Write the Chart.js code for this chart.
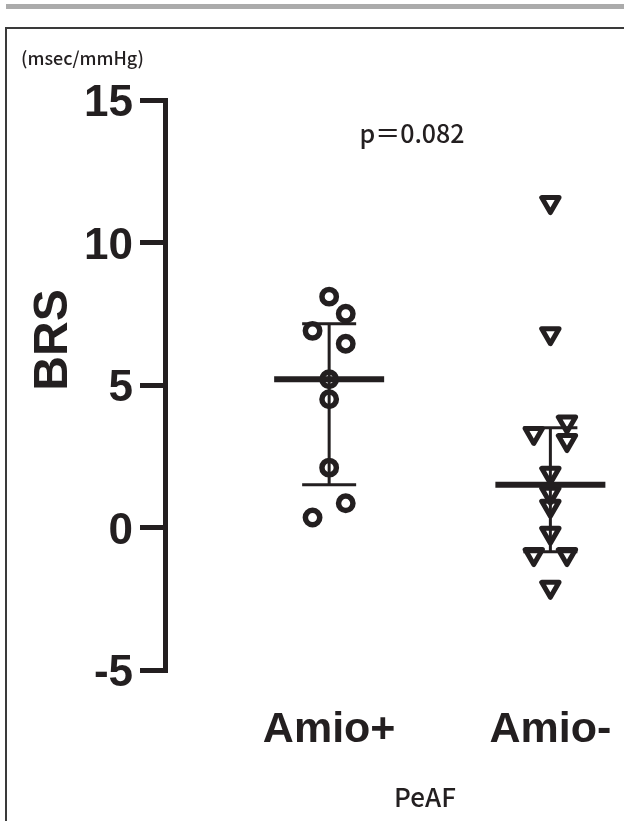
<!DOCTYPE html>
<html>
<head>
<meta charset="utf-8">
<script src="https://cdn.jsdelivr.net/npm/chart.js@4"></script>
<style>
  html, body { margin: 0; padding: 0; overflow: hidden; background: #fff; }
  #wrap { position: relative; width: 624px; height: 821px; }
  .bar { position: absolute; left: 6px; right: 0; top: 4px; height: 5px; background: #ababab; }
  .box { position: absolute; left: 5px; top: 27px; width: 700px; height: 900px; border: 2px solid #3a3a3a; }
  canvas { position: absolute; left: 0; top: 0; }
</style>
</head>
<body>
<div id="wrap">
  <div class="bar"></div>
  <div class="box"></div>
  <canvas id="brsChart" width="624" height="821"></canvas>
</div>
<script>
// values
const categories = ['Amio+', 'Amio-'];
const amioPlus = [8.1, 7.5, 6.9, 6.45, 5.2, 4.5, 2.1, 0.85, 0.35];
const amioPlusLane = [0, 1, -1, 1, 0, 0, 0, 1, -1];
const amioMinus = [11.4, 6.8, 3.7, 3.3, 3.05, 1.9, 1.2, 0.75, -0.2, -0.95, -0.95, -2.1];
const amioMinusLane = [0, 0, 1, -1, 1, 0, 0, 0, 0, -1, 1, 0];
const medians = [5.2, 1.5];
const upper = [7.15, 3.5];
const lower = [1.5, -0.85];
const yTicks = [-5, 0, 5, 10, 15];
const pValue = 'p＝0.082';
const yTitle = 'BRS';
const yUnit = '(msec/mmHg)';
const groupTitle = 'PeAF';

const ink = '#231f20';
const LANE = 0.075;

function toPoints(values, lanes, cat) {
  return values.map((v, i) => ({ x: cat + lanes[i] * LANE, y: v }));
}

const summaryBars = {
  id: 'summaryBars',
  beforeDatasetsDraw(chart) {
    chart.ctx.save();
    chart.ctx.lineJoin = 'round';
  },
  afterDatasetsDraw(chart) {
    chart.ctx.restore();
    const ctx = chart.ctx;
    const xs = chart.scales.x, ys = chart.scales.y;
    ctx.save();
    ctx.strokeStyle = ink;
    categories.forEach((c, i) => {
      const x = xs.getPixelForValue(i + 1);
      ctx.lineWidth = 3;
      ctx.beginPath();
      ctx.moveTo(x, ys.getPixelForValue(upper[i]));
      ctx.lineTo(x, ys.getPixelForValue(lower[i]));
      [upper[i], lower[i]].forEach(v => {
        const y = ys.getPixelForValue(v);
        ctx.moveTo(x - 27, y);
        ctx.lineTo(x + 27, y);
      });
      ctx.stroke();
      ctx.lineWidth = 6;
      ctx.beginPath();
      const ym = ys.getPixelForValue(medians[i]);
      ctx.moveTo(x - 55, ym);
      ctx.lineTo(x + 55, ym);
      ctx.stroke();
    });
    ctx.restore();
  }
};

const labels = {
  id: 'labels',
  afterDraw(chart) {
    const ctx = chart.ctx;
    ctx.save();
    ctx.fillStyle = ink;
    ctx.textBaseline = 'middle';
    ctx.textAlign = 'left';
    ctx.font = '500 18px "Noto Sans CJK JP"';
    ctx.fillText(yUnit, 21, 58);
    ctx.textAlign = 'center';
    ctx.font = '500 25px "Noto Sans CJK JP"';
    ctx.fillText(pValue, 412, 133);
    ctx.font = '500 26px "Noto Sans CJK JP"';
    ctx.fillText(groupTitle, 425, 797);
    ctx.translate(54, 340);
    ctx.rotate(-Math.PI / 2);
    ctx.font = 'bold 48px "Liberation Sans"';
    ctx.fillText(yTitle, 0, 0);
    ctx.restore();
  }
};

new Chart(document.getElementById('brsChart'), {
  type: 'scatter',
  data: {
    datasets: [
      {
        label: categories[0],
        data: toPoints(amioPlus, amioPlusLane, 1),
        pointStyle: 'circle',
        pointRadius: 7.2,
        pointBorderWidth: 5.5,
        borderColor: ink,
        backgroundColor: 'rgba(0,0,0,0)'
      },
      {
        label: categories[1],
        data: toPoints(amioMinus, amioMinusLane, 2),
        pointStyle: 'triangle',
        rotation: 180,
        pointRadius: 10,
        pointBorderWidth: 5,
        borderColor: ink,
        backgroundColor: 'rgba(0,0,0,0)'
      }
    ]
  },
  options: {
    responsive: false,
    animation: false,
    devicePixelRatio: 1,
    events: [],
    layout: { padding: { top: 100, left: 0, right: 0, bottom: 0 } },
    plugins: {
      legend: { display: false },
      tooltip: { enabled: false }
    },
    scales: {
      x: {
        type: 'linear',
        min: 0.258,
        max: 2.265,
        afterBuildTicks: (scale) => { scale.ticks = categories.map((c, i) => ({ value: i + 1 })); },
        afterFit: (scale) => {
          scale.height = 151;
          scale.paddingLeft = 0;
          scale.paddingRight = 0;
        },
        grid: { display: false, drawTicks: false, tickLength: 0 },
        border: { display: false },
        ticks: {
          autoSkip: false,
          maxRotation: 0,
          padding: 34,
          color: ink,
          font: { family: 'Liberation Sans', size: 43, weight: 'bold' },
          callback: (v) => categories[v - 1] || ''
        }
      },
      y: {
        min: -5,
        max: 15,
        afterBuildTicks: (scale) => { scale.ticks = yTicks.map(v => ({ value: v })); },
        afterFit: (scale) => { scale.width = 165; },
        grid: { drawOnChartArea: false, drawTicks: true, tickLength: 25, lineWidth: 5, color: ink },
        border: { display: true, width: 5, color: ink },
        ticks: {
          padding: 7,
          labelOffset: 4,
          color: ink,
          font: { family: 'Liberation Sans', size: 44, weight: 'bold' }
        }
      }
    }
  },
  plugins: [summaryBars, labels]
});
</script>
</body>
</html>
